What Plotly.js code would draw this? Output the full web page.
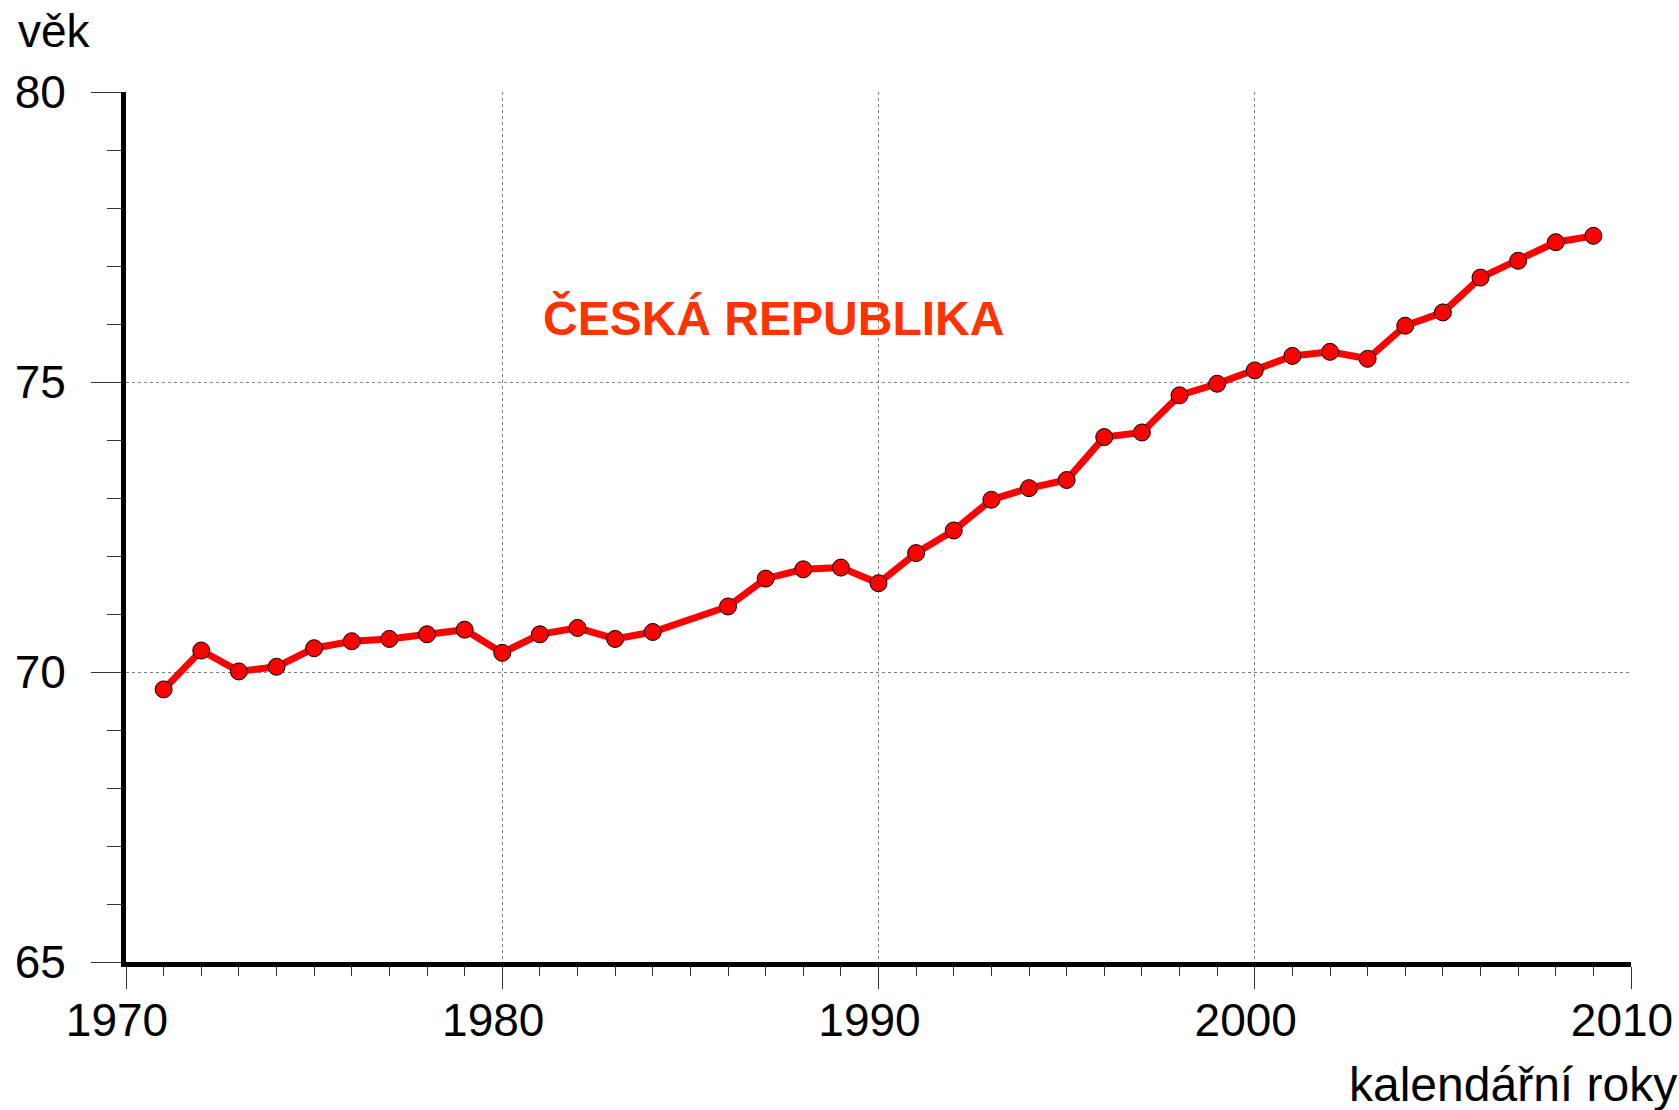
<!DOCTYPE html>
<html>
<head>
<meta charset="utf-8">
<script src="https://cdn.plot.ly/plotly-3.0.1.min.js"></script>
<style>
html,body{margin:0;padding:0;background:#fff;}
#chart{width:1679px;height:1110px;}
</style>
</head>
<body>
<div id="chart"></div>
<script>
var years = [1971,1972,1973,1974,1975,1976,1977,1978,1979,1980,1981,1982,1983,1984,
             1986,1987,1988,1989,1990,1991,1992,1993,1994,1995,1996,1997,1998,1999,
             2000,2001,2002,2003,2004,2005,2006,2007,2008,2009];
var lifeExpectancy = [69.70,70.37,70.01,70.09,70.41,70.53,70.57,70.65,70.73,70.33,70.65,70.76,70.57,70.69,
                      71.13,71.61,71.77,71.80,71.53,72.05,72.44,72.97,73.17,73.31,74.05,74.13,74.77,74.97,
                      75.20,75.45,75.52,75.40,75.97,76.20,76.80,77.09,77.41,77.52];
var xTickVals = [1970,1980,1990,2000,2010];
var yTickVals = [65,70,75,80];
var yTitle = 'věk';
var xTitle = 'kalendářní roky';
var seriesLabel = 'ČESKÁ REPUBLIKA';

var FONT = 'Liberation Sans, Arial, sans-serif';

var trace = {
  x: years,
  y: lifeExpectancy,
  type: 'scatter',
  mode: 'lines+markers',
  line: {color: '#ff0000', width: 7},
  marker: {color: '#ff0000', size: 17, line: {color: '#000000', width: 1}},
  showlegend: false,
  hoverinfo: 'x+y'
};

var layout = {
  width: 1679,
  height: 1110,
  margin: {l: 126, r: 48, t: 92, b: 148, pad: 0},
  paper_bgcolor: '#ffffff',
  plot_bgcolor: '#ffffff',
  font: {family: FONT, color: '#000000'},
  showlegend: false,
  xaxis: {
    range: [1970, 2010],
    tickvals: xTickVals,
    ticktext: xTickVals.map(String),
    ticks: 'outside',
    ticklen: 22,
    tickwidth: 1,
    tickcolor: '#333333',
    tickfont: {family: FONT, size: 46, color: '#000000'},
    ticklabelstandoff: -8,
    ticklabelshift: -9,
    showline: true,
    linecolor: '#000000',
    linewidth: 5,
    showgrid: true,
    gridcolor: '#808080',
    gridwidth: 1,
    griddash: 'dot',
    zeroline: false,
    minor: {dtick: 1, tick0: 1970, ticks: 'outside', ticklen: 9, tickwidth: 1, tickcolor: '#333333', showgrid: false}
  },
  yaxis: {
    range: [65, 80],
    tickvals: yTickVals,
    ticktext: yTickVals.map(String),
    ticks: 'outside',
    ticklen: 30,
    tickwidth: 1,
    tickcolor: '#333333',
    tickfont: {family: FONT, size: 46, color: '#000000'},
    ticklabelstandoff: 16,
    showline: true,
    linecolor: '#000000',
    linewidth: 5,
    showgrid: true,
    gridcolor: '#808080',
    gridwidth: 1,
    griddash: 'dot',
    zeroline: false,
    minor: {dtick: 1, tick0: 65, ticks: 'outside', ticklen: 14, tickwidth: 1, tickcolor: '#333333', showgrid: false}
  },
  annotations: [
    {
      text: yTitle, xref: 'paper', yref: 'paper',
      x: (16 - 126) / 1505, y: (962 - 31) / 870,
      xanchor: 'left', yanchor: 'middle', showarrow: false,
      font: {family: FONT, size: 46, color: '#000000'}
    },
    {
      text: xTitle, xref: 'paper', yref: 'paper',
      x: (1679 - 126) / 1505, y: (962 - 1084) / 870,
      xanchor: 'right', yanchor: 'middle', showarrow: false,
      font: {family: FONT, size: 48, color: '#000000'}
    },
    {
      text: '<b>' + seriesLabel + '</b>', xref: 'paper', yref: 'paper',
      x: (541 - 126) / 1505, y: (962 - 318) / 870,
      xanchor: 'left', yanchor: 'middle', showarrow: false,
      font: {family: FONT, size: 48, color: '#ff3300'}
    }
  ]
};

Plotly.newPlot('chart', [trace], layout, {displayModeBar: false, staticPlot: true});
</script>
</body>
</html>
